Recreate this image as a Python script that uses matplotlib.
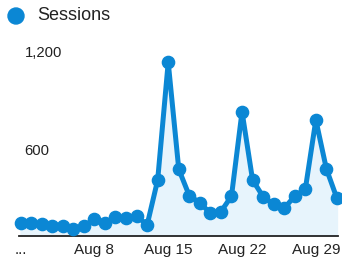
import matplotlib
matplotlib.use("Agg")
import matplotlib.pyplot as plt
from matplotlib.patches import Ellipse

plt.rcParams['font.family'] = ['Liberation Sans', 'DejaVu Sans']

days = list(range(1, 32))
sessions = [82, 78, 74, 62, 62, 43, 62, 103, 82, 115, 109, 125, 68, 345, 1070,
            411, 248, 205, 140, 150, 246, 766, 345, 242, 195, 171, 246, 288, 715, 413, 232]
tick_days = [1, 8, 15, 22, 29]
tick_labels = ["...", "Aug 8", "Aug 15", "Aug 22", "Aug 29"]
y_ticks = [600, 1200]
y_labels = ["600", "1,200"]
series_name = "Sessions"

W, H = 342, 263
fig = plt.figure(figsize=(W / 100, H / 100), dpi=100)
fig.patch.set_facecolor('white')

left, right = 19 / W, 338 / W
bottom, top = 1 - 236 / H, 1 - 41.2 / H
ax = fig.add_axes([left, bottom, right - left, top - bottom])

blue = '#0b87d4'
x = [d - 1 for d in days]
ax.fill_between(x, sessions, 0, color='#e7f4fc', zorder=1)
ax.plot(x, sessions, color=blue, lw=3.6, marker='o', ms=8.8, zorder=3,
        solid_joinstyle='round', clip_on=False)

ax.set_xlim(-0.15, 30.1)
ax.set_ylim(0, 1200)
for s in ['top', 'right', 'left']:
    ax.spines[s].set_visible(False)
ax.spines['bottom'].set_color('#222222')
ax.spines['bottom'].set_linewidth(1.3)
ax.spines['bottom'].set_zorder(2)
ax.set_yticks([])
ax.set_xticks([d - 1 for d in tick_days])
ax.set_xticklabels(tick_labels, fontsize=11, color='#222222')
ax.tick_params(axis='x', length=0, pad=5)
ax.set_facecolor('none')

for v, lab in zip(y_ticks, y_labels):
    ax.annotate(lab, xy=(0.0, v), xycoords=('axes fraction', 'data'),
                xytext=(4, -8.6), textcoords='offset points',
                ha='left', va='center', fontsize=10.7, color='#222222')

# legend
fig.patches.append(Ellipse((16 / W, 1 - 16 / H), 16 / W, 16 / H,
                           transform=fig.transFigure, color=blue, zorder=5))
fig.text(37 / W, 1 - 16 / H, series_name, fontsize=13, color='#222222',
         ha='left', va='center')

fig.savefig('out.png', dpi=100)
